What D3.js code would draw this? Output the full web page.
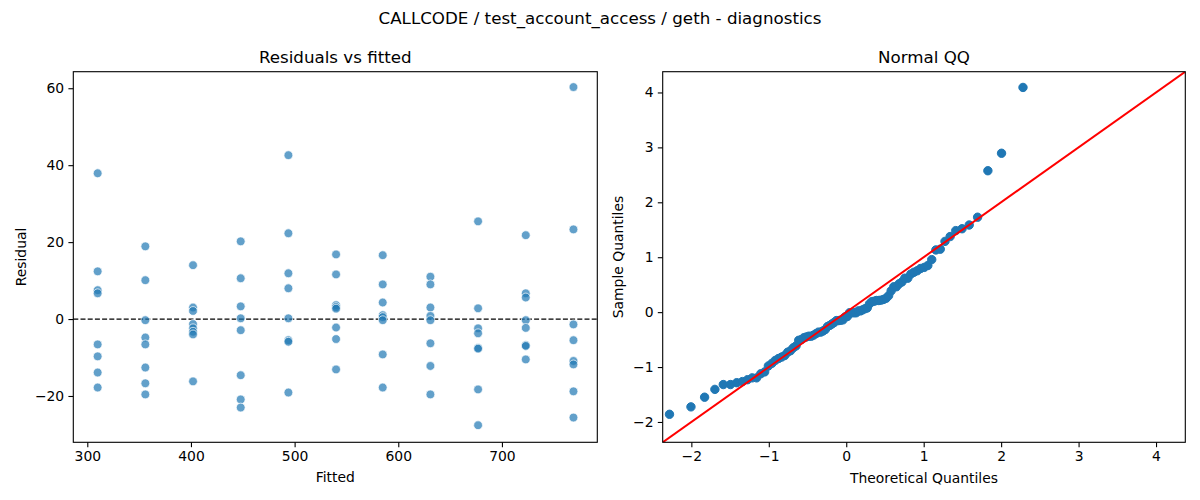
<!DOCTYPE html>
<html>
<head>
<meta charset="utf-8">
<script src="https://cdn.jsdelivr.net/npm/d3@7"></script>
<style>
  body { margin: 0; background: #fff; }
  svg { font-family: "DejaVu Sans", sans-serif; }
</style>
</head>
<body>
<svg id="chart" width="1200" height="500"></svg>
<script>
// fitted value of each group
const fitted = [310, 356, 402, 448, 494, 540, 585, 631, 677, 723, 769];
// residuals of each group (same order as fitted)
const residuals = [
  [37.9, 12.4, 7.5, 6.7, -6.6, -9.7, -13.9, -17.8],
  [18.9, 10.1, -0.3, -4.8, -6.6, -12.6, -16.7, -19.6],
  [14.0, 3.0, 2.1, -1.3, -2.4, -3.3, -4.0, -16.2],
  [20.2, 10.6, 3.3, 0.2, -2.9, -14.6, -20.9, -23.0],
  [42.6, 22.3, 11.9, 8.0, 0.2, -5.5, -5.9, -19.1],
  [16.8, 11.6, 3.6, 3.1, 2.7, -2.2, -5.2, -13.1],
  [16.6, 9.0, 4.3, 1.0, 0.5, -0.3, -9.2, -17.8],
  [11.0, 9.0, 3.0, 0.8, -0.3, -6.3, -12.2, -19.6],
  [25.4, 2.8, -2.4, -3.7, -7.5, -7.7, -18.3, -27.6],
  [21.8, 6.7, 5.6, -0.3, -2.3, -6.8, -7.0, -10.5],
  [60.3, 23.3, -1.4, -5.5, -10.9, -11.8, -18.8, -25.6]
];
const residTicks = [-20, 0, 20, 40, 60];
const fittedTicks = [300, 400, 500, 600, 700];
const qqTicks = [-2, -1, 0, 1, 2, 3, 4];

const svg = d3.select("#chart");
const blue = "#1f77b4";

// inverse normal cdf (Acklam)
function normInv(p) {
  const a = [-39.69683028665376, 220.9460984245205, -275.9285104469687, 138.3577518672690, -30.66479806614716, 2.506628277459239];
  const b = [-54.47609879822406, 161.5858368580409, -155.6989798598866, 66.80131188771972, -13.28068155288572];
  const c = [-0.007784894002430293, -0.3223964580411365, -2.400758277161838, -2.549732539343734, 4.374664141464968, 2.938163982698783];
  const d = [0.007784695709041462, 0.3224671290700398, 2.445134137142996, 3.754408661907416];
  const pl = 0.02425;
  let q, r;
  if (p < pl) {
    q = Math.sqrt(-2 * Math.log(p));
    return (((((c[0]*q+c[1])*q+c[2])*q+c[3])*q+c[4])*q+c[5]) / ((((d[0]*q+d[1])*q+d[2])*q+d[3])*q+1);
  } else if (p <= 1 - pl) {
    q = p - 0.5; r = q * q;
    return (((((a[0]*r+a[1])*r+a[2])*r+a[3])*r+a[4])*r+a[5])*q / (((((b[0]*r+b[1])*r+b[2])*r+b[3])*r+b[4])*r+1);
  }
  q = Math.sqrt(-2 * Math.log(1 - p));
  return -(((((c[0]*q+c[1])*q+c[2])*q+c[3])*q+c[4])*q+c[5]) / ((((d[0]*q+d[1])*q+d[2])*q+d[3])*q+1);
}

function frame(g, x0, x1, y0, y1) {
  g.append("rect").attr("x", x0).attr("y", y0)
    .attr("width", x1 - x0).attr("height", y1 - y0)
    .attr("fill", "none").attr("stroke", "#000").attr("stroke-width", 1.1);
}

function styleAxis(sel) {
  sel.select(".domain").remove();
  sel.selectAll(".tick line").attr("stroke", "#000").attr("stroke-width", 1.1);
  sel.selectAll(".tick text").attr("font-size", 13.9).attr("fill", "#000")
    .attr("font-family", "DejaVu Sans, sans-serif");
}

// figure title
svg.append("text").attr("x", 600).attr("y", 24).attr("text-anchor", "middle")
  .attr("font-size", 16.7).text("CALLCODE / test_account_access / geth - diagnostics");

// ---- Residuals vs fitted ----
const L = { x0: 73.3, x1: 597.3, y0: 71.7, y1: 442.3 };
const x1s = d3.scaleLinear().domain([286.5, 792]).range([L.x0, L.x1]);
const y1s = d3.scaleLinear().domain([-32.04, 64.3]).range([L.y1, L.y0]);
const gL = svg.append("g");

const pts = [];
fitted.forEach((f, i) => residuals[i].forEach(r => pts.push({ f, r })));

gL.append("line").attr("x1", L.x0).attr("x2", L.x1)
  .attr("y1", y1s(0)).attr("y2", y1s(0))
  .attr("stroke", "#000").attr("stroke-width", 1.3).attr("stroke-dasharray", "5,2.2");

gL.selectAll("circle").data(pts).join("circle")
  .attr("cx", d => x1s(d.f)).attr("cy", d => y1s(d.r)).attr("r", 4.4)
  .attr("fill", blue).attr("fill-opacity", 0.7)
  .attr("stroke", "#fff").attr("stroke-width", 0.7);

frame(gL, L.x0, L.x1, L.y0, L.y1);
gL.append("g").attr("transform", `translate(0,${L.y1})`)
  .call(d3.axisBottom(x1s).tickValues(fittedTicks).tickSize(4.9).tickPadding(4.2))
  .call(styleAxis);
gL.append("g").attr("transform", `translate(${L.x0},0)`)
  .call(d3.axisLeft(y1s).tickValues(residTicks).tickSize(4.9).tickPadding(4.2))
  .call(styleAxis);

gL.append("text").attr("x", (L.x0 + L.x1) / 2).attr("y", L.y0 - 8.5)
  .attr("text-anchor", "middle").attr("font-size", 16.7).text("Residuals vs fitted");
gL.append("text").attr("x", (L.x0 + L.x1) / 2).attr("y", 482)
  .attr("text-anchor", "middle").attr("font-size", 13.9).text("Fitted");
gL.append("text").attr("transform", `translate(26,${(L.y0 + L.y1) / 2}) rotate(-90)`)
  .attr("text-anchor", "middle").attr("font-size", 13.9).text("Residual");

// ---- Normal QQ ----
const R = { x0: 662.7, x1: 1185.3, y0: 71.7, y1: 442.3 };
const qd = [-2.37, 4.378];
const x2s = d3.scaleLinear().domain(qd).range([R.x0, R.x1]);
const y2s = d3.scaleLinear().domain(qd).range([R.y1, R.y0]);
const gR = svg.append("g");

const all = residuals.flat();
const mu = d3.mean(all);
const sd = Math.sqrt(d3.mean(all, v => (v - mu) * (v - mu)));
const sample = all.map(v => (v - mu) / sd).sort(d3.ascending);
const n = sample.length;
const qq = sample.map((s, i) => ({ t: normInv((i + 1) / (n + 1)), s }));

const clip = svg.append("clipPath").attr("id", "qqclip")
  .append("rect").attr("x", R.x0).attr("y", R.y0)
  .attr("width", R.x1 - R.x0).attr("height", R.y1 - R.y0);

gR.selectAll("circle").data(qq).join("circle")
  .attr("cx", d => x2s(d.t)).attr("cy", d => y2s(d.s)).attr("r", 4.2)
  .attr("fill", blue).attr("stroke", blue).attr("stroke-width", 1);

gR.append("line").attr("clip-path", "url(#qqclip)")
  .attr("x1", x2s(qd[0])).attr("y1", y2s(qd[0]))
  .attr("x2", x2s(qd[1])).attr("y2", y2s(qd[1]))
  .attr("stroke", "red").attr("stroke-width", 2);

frame(gR, R.x0, R.x1, R.y0, R.y1);
gR.append("g").attr("transform", `translate(0,${R.y1})`)
  .call(d3.axisBottom(x2s).tickValues(qqTicks).tickSize(4.9).tickPadding(4.2).tickFormat(d3.format("d")))
  .call(styleAxis);
gR.append("g").attr("transform", `translate(${R.x0},0)`)
  .call(d3.axisLeft(y2s).tickValues(qqTicks).tickSize(4.9).tickPadding(4.2).tickFormat(d3.format("d")))
  .call(styleAxis);
gR.selectAll(".tick text").text(d => d < 0 ? "\u2212" + Math.abs(d) : d);

gR.append("text").attr("x", (R.x0 + R.x1) / 2).attr("y", R.y0 - 8.5)
  .attr("text-anchor", "middle").attr("font-size", 16.7).text("Normal QQ");
gR.append("text").attr("x", (R.x0 + R.x1) / 2).attr("y", 483)
  .attr("text-anchor", "middle").attr("font-size", 13.9).text("Theoretical Quantiles");
gR.append("text").attr("transform", `translate(623,${(R.y0 + R.y1) / 2}) rotate(-90)`)
  .attr("text-anchor", "middle").attr("font-size", 13.9).text("Sample Quantiles");

gL.selectAll(".tick text").text(d => d < 0 ? "\u2212" + Math.abs(d) : d);
</script>
</body>
</html>
